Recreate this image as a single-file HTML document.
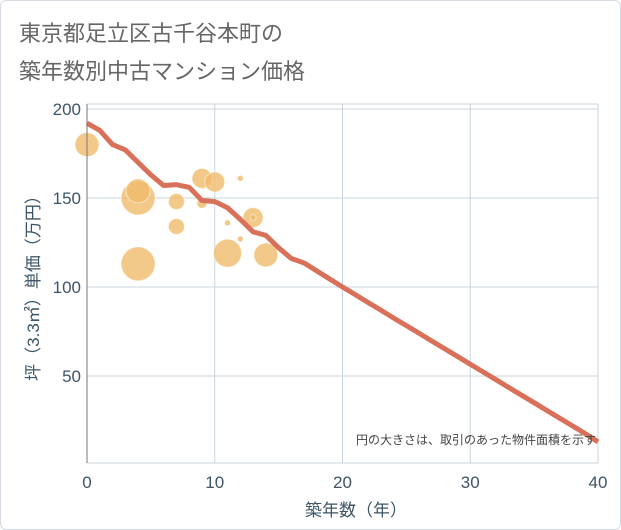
<!DOCTYPE html>
<html><head><meta charset="utf-8"><style>
body{margin:0;background:#fff;font-family:"Liberation Sans","Noto Sans CJK JP",sans-serif;}
#wrap{position:relative;width:619px;height:528px;border:1px solid #d5dbe0;border-radius:6px;overflow:hidden;}
</style></head><body>
<div id="wrap">
<svg width="621" height="530">
<text x="18" y="40" font-size="22" fill="#666" font-weight="normal">東京都足立区古千谷本町の</text>
<text x="18" y="78" font-size="22" fill="#666" font-weight="normal">築年数別中古マンション価格</text>
<g id="grid"></g>
<g id="bubbles"></g>
<path id="line" fill="none" stroke="#d9705a" stroke-width="5" stroke-linejoin="round"/>
<line x1="86" y1="103" x2="86" y2="462" stroke="#777" stroke-width="1"/>
<text x="595" y="443" font-size="12" fill="#444" text-anchor="end">円の大きさは、取引のあった物件面積を示す</text>
<g id="ticks"></g>
<text x="355" y="515" font-size="17" fill="#3d5566" text-anchor="middle">築年数（年）</text>
<text transform="translate(38,283) rotate(-90)" font-size="17" fill="#3d5566" text-anchor="middle">坪（3.3㎡）単価（万円）</text>
</svg>
</div>
<script>
const xTicks=[0,10,20,30,40];
const yTicks=[50,100,150,200];
const lineYears=[0,1,2,3,4,5,6,7,8,9,10,11,12,13,14,15,16,17,18,19,20,21,22,23,24,25,26,27,28,29,30,31,32,33,34,35,36,37,38,39,40];
const linePrices=[192,188,180,177,170,163,157,157.5,156,148.6,148,144.5,138,131,129,122,116,113.5,109,104.5,100,95.7,91.3,87,82.6,78.3,74,69.6,65.3,61,56.6,52.3,48,43.6,39.3,35,30.6,26.3,22,17.6,13];
const bubbleYears=[0,4,4,4,7,7,9,10,9,12,13,13,11,12,11,14];
const bubblePrices=[180,150,154,113,148,134,161,159,147,161,139,139,136,127,119,118];
const bubbleSizes=[12,17,12,17,8,8,10,10,5,3,10,3,3,3,14,12];
const X=v=>86+12.775*v, Y=v=>108+(200-v)*1.78;
const NS="http://www.w3.org/2000/svg";
const grid=document.getElementById('grid'), ticks=document.getElementById('ticks'), bub=document.getElementById('bubbles');
function mk(tag,attrs,parent){const e=document.createElementNS(NS,tag);for(const k in attrs)e.setAttribute(k,attrs[k]);parent.appendChild(e);return e;}
xTicks.forEach(t=>{
 if(t>0){const l=mk('line',{x1:X(t),x2:X(t),y1:103,y2:462,stroke:'#c9d4de'},grid);
 
 }
 const tx=mk('text',{x:X(t),y:487,'font-size':17,fill:'#3d5566','text-anchor':'middle'},ticks);tx.textContent=t;
 
 
});
yTicks.forEach(t=>{
 const l=mk('line',{x1:86,x2:597,y1:Y(t),y2:Y(t),stroke:'#c9d4de'},grid);
 
 
 const tx=mk('text',{x:80,y:Y(t)+6,'font-size':17,fill:'#3d5566','text-anchor':'end'},ticks);tx.textContent=t;
 
 
});
const gb=mk('line',{x1:86,x2:597,y1:462,y2:462,stroke:'#c9d4de'},grid);


const gr=mk('line',{x1:597,x2:597,y1:103,y2:462,stroke:'#c9d4de'},grid);


const gt=mk('line',{x1:86,x2:597,y1:103,y2:103,stroke:'#c9d4de'},grid);


bubbleYears.forEach((yr,i)=>{
 const c=mk('circle',{cx:X(yr),cy:Y(bubblePrices[i]),r:bubbleSizes[i],fill:'#f0bc6c','fill-opacity':0.8,stroke:'#fff','stroke-opacity':0.5},bub);
 
 
});
document.getElementById('line').setAttribute('d',lineYears.map((yr,i)=>(i?'L':'M')+X(yr)+','+Y(linePrices[i])).join(''));
</script>
</body></html>
